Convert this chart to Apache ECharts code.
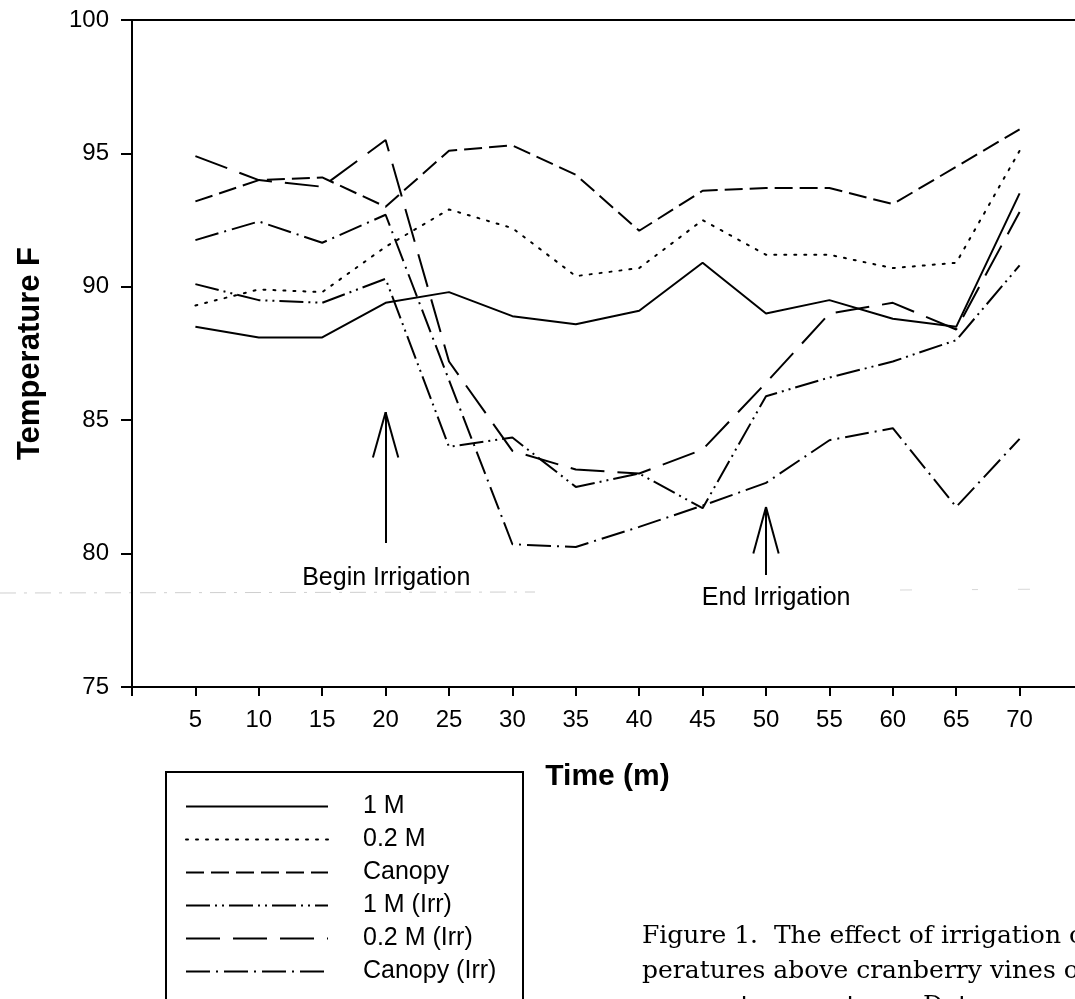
<!DOCTYPE html>
<html>
<head>
<meta charset="utf-8">
<script src="https://cdn.jsdelivr.net/npm/echarts@6/dist/echarts.min.js"></script>
<style>
html,body{margin:0;padding:0;background:#fff;}
#chart{width:1075px;height:999px;}
</style>
</head>
<body>
<div id="chart"></div>
<script>
// ---- data ----
const times = [5, 10, 15, 20, 25, 30, 35, 40, 45, 50, 55, 60, 65, 70];
const oneM       = [88.5, 88.1, 88.1, 89.4, 89.8, 88.9, 88.6, 89.1, 90.9, 89.0, 89.5, 88.8, 88.5, 93.5];
const pointTwoM  = [89.3, 89.9, 89.8, 91.5, 92.9, 92.2, 90.4, 90.7, 92.5, 91.2, 91.2, 90.7, 90.9, 95.1];
const canopy     = [93.2, 94.0, 94.1, 93.0, 95.1, 95.3, 94.2, 92.1, 93.6, 93.7, 93.7, 93.1, 94.5, 95.9];
const oneMIrr    = [90.1, 89.5, 89.4, 90.3, 84.0, 84.35, 82.5, 83.0, 81.7, 85.9, 86.6, 87.2, 88.0, 90.8];
const pointTwoMIrr = [94.9, 94.0, 93.75, 95.5, 87.2, 83.85, 83.15, 83.0, 83.9, 86.4, 89.0, 89.4, 88.4, 92.8];
const canopyIrr  = [91.75, 92.45, 91.65, 92.7, 86.5, 80.35, 80.25, 81.0, 81.8, 82.65, 84.25, 84.7, 81.75, 84.3];

const seriesNames = ['1 M', '0.2 M', 'Canopy', '1 M (Irr)', '0.2 M (Irr)', 'Canopy (Irr)'];
const seriesValues = [oneM, pointTwoM, canopy, oneMIrr, pointTwoMIrr, canopyIrr];
const xTickLabels = times.map(String);

// annotation arrows (data coordinates)
const annotations = [
  { text: 'Begin Irrigation', x: 20, tip: 85.3, base: 80.4, barbY: 83.6, barbDx: 1.0, textX: 20.05, textY: 79.1 },
  { text: 'End Irrigation',   x: 50, tip: 81.75, base: 79.2, barbY: 80.0, barbDx: 1.0, textX: 50.8, textY: 78.35 }
];

// ---- styles ----
const dashStyles = ['solid', [2, 8], [18, 7], [24, 5, 2, 5, 2, 5], [34, 13], [24, 6, 2, 6]];
const caps = ['butt', 'round', 'butt', 'butt', 'butt', 'butt'];

const chart = echarts.init(document.getElementById('chart'), null, { renderer: 'canvas' });

const markSegments = [];
annotations.forEach(a => {
  markSegments.push([{ coord: [a.x, a.base] }, { coord: [a.x, a.tip] }]);
  markSegments.push([{ coord: [a.x - a.barbDx, a.barbY] }, { coord: [a.x, a.tip] }]);
  markSegments.push([{ coord: [a.x + a.barbDx, a.barbY] }, { coord: [a.x, a.tip] }]);
});

const series = seriesNames.map((name, i) => {
  const s = {
    name: name,
    type: 'line',
    data: times.map((t, k) => [t, seriesValues[i][k]]),
    symbol: 'none',
    smooth: false,
    lineStyle: { color: '#000', width: 2, type: dashStyles[i], cap: caps[i] },
    itemStyle: { color: '#000' },
    z: 3
  };
  if (i === 0) {
    s.markLine = {
      silent: true,
      symbol: 'none',
      label: { show: false },
      lineStyle: { color: '#000', width: 2, type: 'solid' },
      data: markSegments
    };
    s.markPoint = {
      silent: true,
      symbol: 'circle',
      symbolSize: 1,
      itemStyle: { color: 'rgba(0,0,0,0)' },
      label: {
        show: true, position: 'inside', formatter: '{b}',
        color: '#000', fontSize: 25, fontFamily: 'Liberation Sans, Arial, sans-serif'
      },
      data: annotations.map(a => ({ name: a.text, coord: [a.textX, a.textY] }))
    };
  }
  return s;
});

const sansFont = 'Liberation Sans, Arial, sans-serif';

chart.setOption({
  animation: false,
  backgroundColor: '#fff',
  grid: {
    left: 132, top: 20, width: 951, height: 667,
    containLabel: false,
    outerBoundsMode: 'none',
    show: true, borderColor: '#000', borderWidth: 2, backgroundColor: 'transparent'
  },
  xAxis: {
    type: 'value', min: 0, max: 75, interval: 5,
    name: 'Time (m)', nameLocation: 'middle', nameGap: 75,
    nameTextStyle: { fontSize: 30, fontWeight: 'bold', color: '#000', fontFamily: sansFont },
    axisLine: { show: true, lineStyle: { color: '#000', width: 2 } },
    axisTick: { show: true, inside: false, length: 9, lineStyle: { color: '#000', width: 2 } },
    axisLabel: {
      color: '#000', fontSize: 24, fontFamily: sansFont, margin: 21,
      formatter: v => (xTickLabels.indexOf(String(v)) >= 0 ? String(v) : '')
    },
    splitLine: { show: false }
  },
  yAxis: {
    type: 'value', min: 75, max: 100, interval: 5,
    name: 'Temperature F', nameLocation: 'middle', nameGap: 86,
    nameTextStyle: { fontSize: 31, fontWeight: 'bold', color: '#000', fontFamily: sansFont },
    axisLine: { show: true, lineStyle: { color: '#000', width: 2 } },
    axisTick: { show: true, inside: false, length: 11, lineStyle: { color: '#000', width: 2 } },
    axisLabel: { color: '#000', fontSize: 24, fontFamily: sansFont, margin: 23 },
    splitLine: { show: false }
  },
  legend: {
    orient: 'vertical',
    left: 185, top: 794,
    padding: 0,
    itemWidth: 142, itemHeight: 14, itemGap: 8,
    selectedMode: false,
    itemStyle: { opacity: 0, color: 'rgba(0,0,0,0)', borderWidth: 0 },
    textStyle: { color: '#000', fontSize: 25, lineHeight: 25, fontFamily: sansFont, padding: [0, 0, 0, 30] },
    data: seriesNames.map((n, i) => ({
      name: n,
      itemStyle: { opacity: 0, color: 'rgba(0,0,0,0)', borderWidth: 0 },
      lineStyle: { color: '#000', width: 2, type: dashStyles[i], cap: caps[i], opacity: 1 }
    }))
  },
  graphic: [
    { type: 'rect', shape: { x: 166, y: 772, width: 357, height: 260 },
      style: { fill: 'none', stroke: '#000', lineWidth: 2 }, silent: true },
    { type: 'line', shape: { x1: 0, y1: 593, x2: 535, y2: 592 },
      style: { stroke: '#cfcfcf', lineWidth: 1, lineDash: [16, 8, 3, 8] }, silent: true },
    { type: 'line', shape: { x1: 900, y1: 590, x2: 1075, y2: 589 },
      style: { stroke: '#d8d8d8', lineWidth: 1, lineDash: [12, 60, 6, 40] }, silent: true },
    { type: 'text', left: 642, top: 919,
      style: {
        text: 'Figure 1.  The effect of irrigation o\nperatures above cranberry vines o\ncanopy temperature.  Data were c',
        fill: '#000', font: '25px "DejaVu Serif", "Liberation Serif", serif', lineHeight: 35
      }, silent: true }
  ],
  series: series
});
</script>
</body>
</html>
